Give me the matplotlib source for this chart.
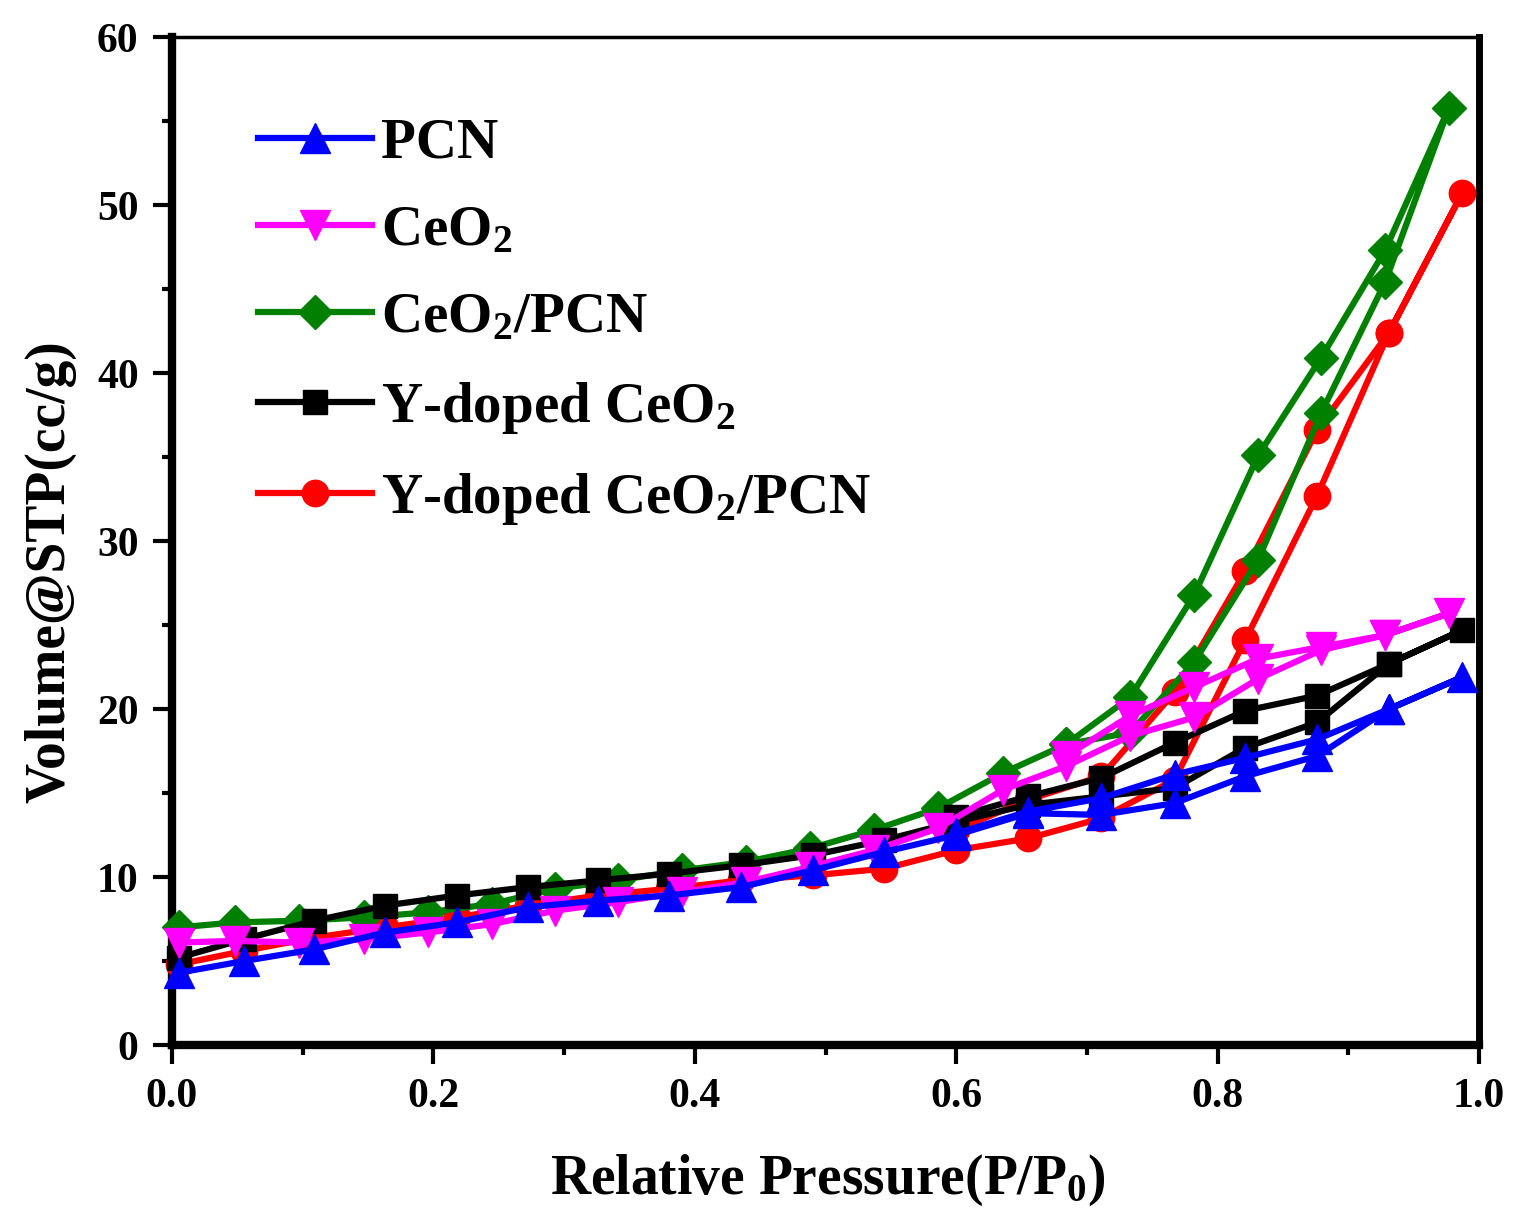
import matplotlib
matplotlib.use("Agg")
import matplotlib.pyplot as plt
from matplotlib.ticker import MultipleLocator

plt.rcParams['font.family'] = ['Liberation Serif', 'DejaVu Serif']
plt.rcParams['font.weight'] = 'bold'
plt.rcParams['mathtext.fontset'] = 'custom'
plt.rcParams['mathtext.rm'] = 'Liberation Serif:bold'
plt.rcParams['mathtext.bf'] = 'Liberation Serif:bold'
plt.rcParams['mathtext.it'] = 'Liberation Serif:bold'
plt.rcParams['mathtext.default'] = 'bf'

# ---- data ----
labels = ['PCN', 'CeO$_2$', 'CeO$_2$/PCN', 'Y-doped CeO$_2$', 'Y-doped CeO$_2$/PCN']

# pressure grid for CeO2 and CeO2/PCN
p_a_ads = [0.005, 0.048, 0.097, 0.147, 0.196, 0.245, 0.293, 0.341, 0.390, 0.439, 0.488,
           0.537, 0.586, 0.636, 0.684, 0.733, 0.782, 0.831, 0.879, 0.928, 0.977]
p_a_des = [0.928, 0.879, 0.831, 0.782, 0.733, 0.684]

# pressure grid for PCN, Y-doped CeO2, Y-doped CeO2/PCN
p_b_ads = [0.005, 0.055, 0.109, 0.163, 0.218, 0.272, 0.326, 0.380, 0.435, 0.490,
           0.545, 0.600, 0.655, 0.711, 0.767, 0.821, 0.876, 0.931, 0.987]
p_b_des = [0.931, 0.876, 0.821, 0.767, 0.711, 0.655, 0.600]

pcn_ads = [4.3, 5.0, 5.7, 6.7, 7.3, 8.2, 8.6, 8.9, 9.4, 10.4, 11.5, 12.5, 13.8, 13.7,
           14.4, 16.0, 17.2, 20.0, 21.9]
pcn_des = [20.0, 18.2, 17.1, 16.1, 14.7, 13.9, 12.6]

ceo2_ads = [6.1, 6.2, 6.1, 6.3, 6.7, 7.2, 8.0, 8.5, 9.1, 9.7, 10.6, 11.6, 12.9, 15.2,
            16.6, 18.4, 19.5, 21.8, 23.5, 24.4, 25.7]
ceo2_des = [24.4, 23.7, 23.0, 21.3, 19.6, 17.2]

ceo2pcn_ads = [7.0, 7.3, 7.4, 7.6, 7.9, 8.4, 9.3, 9.8, 10.4, 10.9, 11.7, 12.8, 14.1,
               16.2, 17.9, 20.7, 26.8, 35.1, 40.9, 47.3, 55.8]
ceo2pcn_des = [45.4, 37.6, 28.9, 22.8, 18.6, 17.9]

yceo2_ads = [5.2, 6.3, 7.4, 8.3, 8.9, 9.4, 9.8, 10.2, 10.7, 11.3, 12.2, 13.3, 14.3,
             14.8, 15.3, 17.7, 19.2, 22.7, 24.7]
yceo2_des = [22.7, 20.8, 19.9, 18.0, 15.9, 14.8, 13.6]

yceo2pcn_ads = [4.8, 5.6, 6.4, 7.0, 7.6, 8.3, 8.9, 9.3, 9.8, 10.1, 10.5, 11.6, 12.3,
                13.5, 15.8, 24.1, 32.7, 42.4, 50.7]
yceo2pcn_des = [42.4, 36.6, 28.2, 21.0, 16.0, 14.6, 12.8]

colors = ['#0000FF', '#FF00FF', '#008000', '#000000', '#FF0000']
markers = ['^', 'v', 'D', 's', 'o']
msizes = [21, 21, 17, 17, 19]
zorders = [7, 6, 4, 5, 3]

series = [
    (p_b_ads + p_b_des, pcn_ads + pcn_des),
    (p_a_ads + p_a_des, ceo2_ads + ceo2_des),
    (p_a_ads + p_a_des, ceo2pcn_ads + ceo2pcn_des),
    (p_b_ads + p_b_des, yceo2_ads + yceo2_des),
    (p_b_ads + p_b_des, yceo2pcn_ads + yceo2pcn_des),
]

fig = plt.figure(figsize=(15.14, 12.19), dpi=100)
ax = fig.add_axes([0.1136, 0.1427, 0.977 - 0.1136, 0.9696 - 0.1427])

for (x, y), lab, c, m, ms, z in zip(series, labels, colors, markers, msizes, zorders):
    ax.plot(x, y, color=c, marker=m, markersize=ms, markeredgecolor=c,
            markerfacecolor=c, linewidth=4.5, label=lab, zorder=z, clip_on=False)

ax.set_xlim(0, 1.0)
ax.set_ylim(0, 60)
ax.xaxis.set_major_locator(MultipleLocator(0.2))
ax.xaxis.set_minor_locator(MultipleLocator(0.1))
ax.yaxis.set_major_locator(MultipleLocator(10))
ax.yaxis.set_minor_locator(MultipleLocator(5))
ax.xaxis.set_major_formatter(matplotlib.ticker.FormatStrFormatter('%.1f'))

ax.tick_params(which='major', direction='out', length=14, width=3, labelsize=30, pad=10,
               top=False, right=False)
ax.tick_params(which='minor', direction='out', length=7, width=3, top=False, right=False)
for lab in ax.get_xticklabels() + ax.get_yticklabels():
    lab.set_fontweight('bold')

ax.spines['left'].set_linewidth(6)
ax.spines['bottom'].set_linewidth(6)
ax.spines['right'].set_linewidth(5)
ax.spines['top'].set_linewidth(2.5)

ax.set_xlabel('Relative Pressure(P/P$_0$)', fontsize=40, fontweight='bold')
ax.set_ylabel('Volume@STP(cc/g)', fontsize=40, fontweight='bold')
ax.xaxis.label.set_va('center')
ax.yaxis.label.set_va('center')
ax.xaxis.set_label_coords(0.502, -0.134)
ax.yaxis.set_label_coords(-0.093, 0.47)

leg = ax.legend(loc='upper left', bbox_to_anchor=(0.066, 0.92), frameon=False,
                fontsize=41, handlelength=2.0, handletextpad=0.15, labelspacing=0.62,
                borderpad=0, borderaxespad=0, numpoints=1)

fig.savefig('out.png', dpi=100)
